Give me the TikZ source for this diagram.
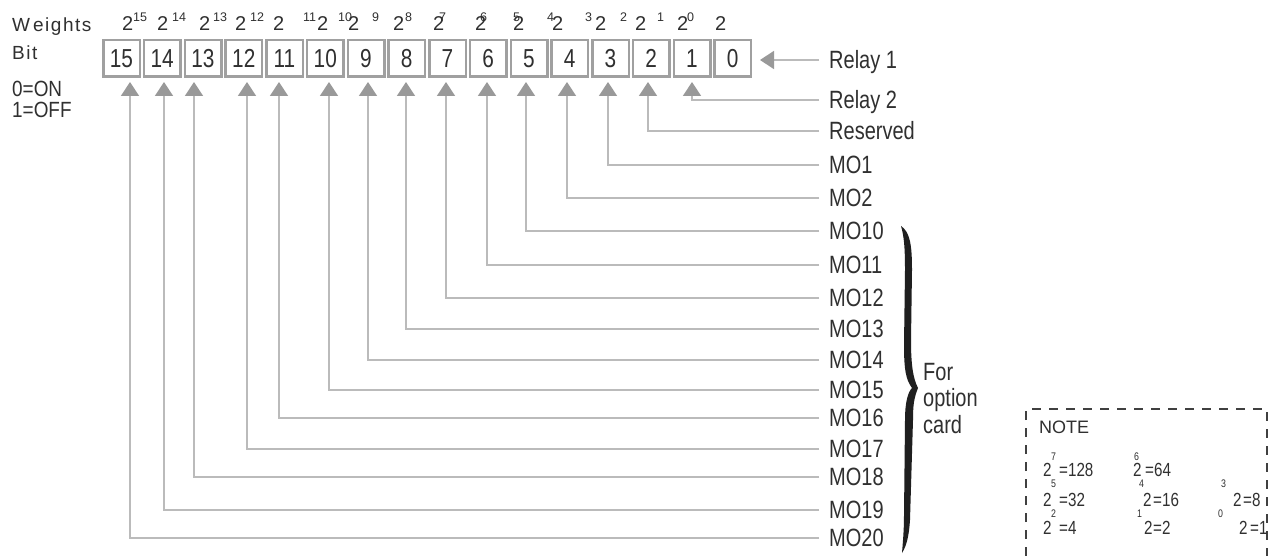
\documentclass[tikz,border=0pt]{standalone}
\usepackage{fontspec}
\setmainfont{Liberation Sans}
\newfontfamily\condf[FakeStretch=0.8]{Liberation Sans}
\newfontfamily\condg[FakeStretch=0.86]{Liberation Sans}
\usetikzlibrary{arrows.meta}
\definecolor{txt}{HTML}{303030}
\definecolor{boxgray}{HTML}{A0A0A0}
\definecolor{linegray}{HTML}{BBBBBB}
\definecolor{headgray}{HTML}{999999}
\definecolor{dashgray}{HTML}{404040}
\begin{document}
\begin{tikzpicture}[x=1pt,y=-1pt,
  bitbox/.style={draw=boxgray,line width=2.5pt,minimum width=36.5pt,minimum height=36.5pt,inner sep=0pt,text=txt,font=\condf\fontsize{26}{30}\selectfont},
  lab/.style={anchor=west,inner xsep=10pt,inner ysep=0pt,text height=17.9pt,text depth=0pt,text=txt,font=\condf\fontsize{25}{30}\selectfont},
  conn/.style={draw=linegray,line width=1.5pt,-{Triangle[width=18pt,length=14pt,color=headgray]}},
  txtnode/.style={anchor=base west,inner sep=0pt,text=txt},
  wbase/.style={txtnode,font=\fontsize{20}{24}\selectfont},
  wsup/.style={txtnode,font=\fontsize{12.5}{15}\selectfont},
  nbase/.style={txtnode,font=\condf\fontsize{19}{22}\selectfont},
  nsup/.style={txtnode,font=\condf\fontsize{11}{13}\selectfont},
  notedash/.style={draw=dashgray,line width=1.2pt,dash pattern=on 9pt off 8pt}
]
\useasboundingbox (0,0) rectangle (1269,556);
\fill[white] (0,0) rectangle (1269,556);

% left texts
\node[txtnode,font=\fontsize{19}{22}\selectfont\addfontfeature{LetterSpace=8}] (wt) at (12,32) {W\kern3pt eights};
\node[txtnode,font=\fontsize{19}{22}\selectfont\addfontfeature{LetterSpace=8}] (bt) at (12,60) {Bit};
\node[txtnode,font=\condg\fontsize{22}{24}\selectfont] (on) at (12,97) {0=ON};
\node[txtnode,font=\condg\fontsize{22}{24}\selectfont] (off) at (12,118) {1=OFF};

% weights row
\foreach \x [count=\k] in {122,157,199,235,273,317,348,393,433,475,513,552,595,635,677,715}
  \node[wbase] (wb\k) at (\x,31) {2};
\foreach \x/\s in {133/15,172/14,213/13,250/12,303/11,338/10,372/9,405/8,439/7,480/6,513/5,547/4,585/3,620/2,657/1,687/0}
  \node[wsup] (ws\s) at (\x,22) {\s};

% bit boxes
\foreach \i in {0,...,15}
  \node[bitbox] (b\i) at ({121.5+40.75*(15-\i)},58.5) {\i};

% arrow tips
\foreach \i/\x in {1/692,2/648,3/608,4/567,5/526,6/487,7/446,8/406,9/368,10/329,11/279,12/247,13/194,14/164,15/130}
  \coordinate (t\i) at (\x,82);
\coordinate (t0) at (760,60);

% labels and connectors
\node[lab] (L0) at (819,60) {Relay 1};
\draw[conn] (L0.west) -- (t0);
\foreach \i/\y/\t in {1/100/Relay 2,2/131/Reserved,3/165/MO1,4/198/MO2,5/231/MO10,6/265/MO11,7/298/MO12,8/329/MO13,9/360/MO14,10/390/MO15,11/418/MO16,12/449/MO17,13/477/MO18,14/510/MO19,15/538/MO20}
{
  \node[lab] (L\i) at (819,\y) {\t};
  \draw[conn] (L\i.west) -| (t\i);
}

% brace
\fill[black!88] (901,226) .. controls (910,232) and (912,245) .. (912,270)
  -- (911,340) .. controls (911,365) and (913,378) .. (918,388)
  .. controls (914,398) and (913,405) .. (913,420)
  -- (910,520) .. controls (909,535) and (907,545) .. (902,553)
  .. controls (903,540) and (904,530) .. (904,515)
  -- (905,420) .. controls (905,402) and (908,392) .. (912,388)
  .. controls (906,380) and (904,370) .. (904,345)
  -- (905,270) .. controls (905,248) and (904,236) .. (901,226) -- cycle;
\node[txtnode,font=\condf\fontsize{25}{30}\selectfont] (f1) at (923,380) {For};
\node[txtnode,font=\condf\fontsize{25}{30}\selectfont] (f2) at (923,406) {option};
\node[txtnode,font=\condf\fontsize{25}{30}\selectfont] (f3) at (923,433) {card};

% NOTE box
\draw[notedash] (1026,556) -- (1026,409) -- (1267,409) -- (1267,556);
\node[txtnode,font=\fontsize{18}{22}\selectfont] (note) at (1039,433) {NOTE};
% row 1
\node[nbase] (n7) at (1043,476) {2};
\node[nsup] (s7) at (1051,460) {7};
\node[nbase] (e7) at (1059,476) {=128};
\node[nbase] (n6) at (1133,476) {2};
\node[nsup] (s6) at (1134,460) {6};
\node[nbase] (e6) at (1145,476) {=64};
% row 2
\node[nsup] (s5) at (1051,487) {5};
\node[nbase] (n5) at (1043,506) {2};
\node[nbase] (e5) at (1059,506) {=32};
\node[nsup] (s4) at (1139,487) {4};
\node[nbase] (n4) at (1143,506) {2};
\node[nbase] (e4) at (1153,506) {=16};
\node[nsup] (s3) at (1221,487) {3};
\node[nbase] (n3) at (1233,506) {2};
\node[nbase] (e3) at (1243,506) {=8};
% row 3
\node[nsup] (s2) at (1051,517) {2};
\node[nbase] (n2) at (1043,534) {2};
\node[nbase] (e2) at (1059,534) {=4};
\node[nsup] (s1) at (1137,517) {1};
\node[nbase] (n1) at (1144,534) {2};
\node[nbase] (e1) at (1153,534) {=2};
\node[nsup] (s0) at (1218,517) {0};
\node[nbase] (n0) at (1239,534) {2};
\node[nbase] (e0) at (1250,534) {=1};
\end{tikzpicture}
\end{document}
